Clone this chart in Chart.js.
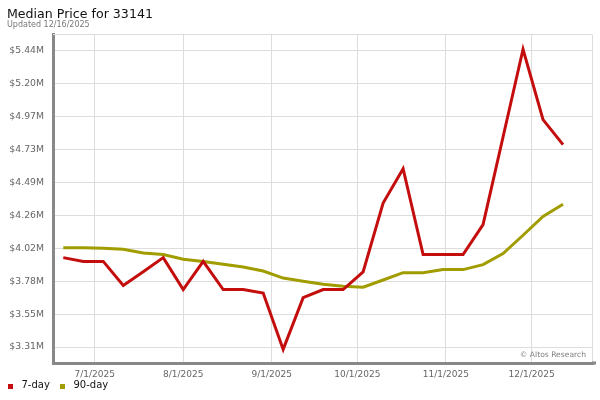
<!DOCTYPE html>
<html>
<head>
<meta charset="utf-8">
<script src="https://cdn.jsdelivr.net/npm/chart.js@4"></script>
<style>
    body { margin: 0; background: #fff; font-family: 'DejaVu Sans', sans-serif; }
    #wrap { position: relative; width: 600px; height: 400px; }
    #title { position: absolute; left: 7px; top: 7px; font-size: 12.6px; line-height: 13px; color: #111; white-space: nowrap; }
    #updated { position: absolute; left: 7px; top: 20.5px; font-size: 8px; line-height: 8px; color: #777; white-space: nowrap; }
    #credit { position: absolute; right: 14px; top: 350.5px; font-size: 7.6px; line-height: 8px; color: #808080; white-space: nowrap; }
    .legend-item { position: absolute; top: 380px; font-size: 10px; line-height: 10px; color: #111; white-space: nowrap; }
    .legend-box { position: absolute; top: 384px; width: 5px; height: 5px; }
</style>
</head>
<body>
<div id="wrap">
    <canvas id="priceChart" width="600" height="400"></canvas>
    <div id="title">Median Price for 33141</div>
    <div id="updated">Updated 12/16/2025</div>
    <div id="credit">© Altos Research</div>
    <div id="legend"></div>
</div>
<script>
// Weekly sample dates
var dates = ['2025-06-20', '2025-06-27', '2025-07-04', '2025-07-11', '2025-07-18', '2025-07-25',
    '2025-08-01', '2025-08-08', '2025-08-15', '2025-08-22', '2025-08-29', '2025-09-05',
    '2025-09-12', '2025-09-19', '2025-09-26', '2025-10-03', '2025-10-10', '2025-10-17',
    '2025-10-24', '2025-10-31', '2025-11-07', '2025-11-14', '2025-11-21', '2025-11-28',
    '2025-12-05', '2025-12-12'];

// Median price, millions of dollars
var sevenDay = [3.953, 3.926, 3.926, 3.752, 3.852, 3.953, 3.723, 3.926, 3.723, 3.723,
    3.698, 3.293, 3.665, 3.723, 3.723, 3.850, 4.346, 4.593, 3.975, 3.975,
    3.975, 4.190, 4.821, 5.452, 4.946, 4.766];
var ninetyDay = [4.025, 4.025, 4.020, 4.013, 3.986, 3.975, 3.941, 3.926, 3.905, 3.886,
    3.857, 3.806, 3.783, 3.761, 3.747, 3.740, 3.792, 3.845, 3.845, 3.867,
    3.867, 3.903, 3.982, 4.114, 4.250, 4.337];

var seriesNames = ['7-day', '90-day'];
var xTickDates = ['2025-07-01', '2025-08-01', '2025-09-01', '2025-10-01', '2025-11-01', '2025-12-01'];
var xTickLabels = ['7/1/2025', '8/1/2025', '9/1/2025', '10/1/2025', '11/1/2025', '12/1/2025'];
var yTickValues = [3.31, 3.5467, 3.7833, 4.02, 4.2567, 4.4933, 4.73, 4.9667, 5.2033, 5.44];
var yTickLabels = ['$3.31M', '$3.55M', '$3.78M', '$4.02M', '$4.26M', '$4.49M', '$4.73M', '$4.97M', '$5.20M', '$5.44M'];

var redColor = '#c40d0d';
var oliveColor = '#a19c00';

function dayNum(s) {
    var p = s.split('-');
    return Date.UTC(+p[0], +p[1] - 1, +p[2]) / 86400000;
}

function toPoints(values) {
    return values.map(function(v, i) { return { x: dayNum(dates[i]), y: v }; });
}

Chart.defaults.font.family = "'DejaVu Sans', sans-serif";

// light border on top and right of the plot, plus the bottom axis stub past the corner
var framePlugin = {
    id: 'frame',
    beforeDatasetsDraw: function(chart) {
        var a = chart.chartArea;
        var ctx = chart.ctx;
        ctx.save();
        ctx.strokeStyle = '#dddddd';
        ctx.lineWidth = 1;
        ctx.beginPath();
        ctx.moveTo(a.left, a.top + 0.5);
        ctx.lineTo(a.right - 0.5, a.top + 0.5);
        ctx.lineTo(a.right - 0.5, a.bottom);
        ctx.stroke();
        ctx.fillStyle = '#888888';
        ctx.fillRect(a.right - 1, a.bottom - 1.5, 4, 3);
        ctx.restore();
    }
};

var firstDay = dayNum(dates[0]);
var lastDay = dayNum(dates[dates.length - 1]);

var chart = new Chart(document.getElementById('priceChart').getContext('2d'), {
    type: 'line',
    data: {
        datasets: [{
            label: seriesNames[0],
            data: toPoints(sevenDay),
            borderColor: redColor,
            backgroundColor: redColor,
            borderWidth: 3,
            pointRadius: 0,
            tension: 0
        }, {
            label: seriesNames[1],
            data: toPoints(ninetyDay),
            borderColor: oliveColor,
            backgroundColor: oliveColor,
            borderWidth: 3,
            pointRadius: 0,
            tension: 0
        }]
    },
    options: {
        responsive: false,
        animation: false,
        layout: { padding: { top: 34, right: 7, left: 0, bottom: 0 } },
        plugins: {
            legend: { display: false },
            tooltip: { enabled: false }
        },
        scales: {
            x: {
                type: 'linear',
                min: firstDay - 3.6,
                max: lastDay + 10.5,
                afterFit: function(scale) { scale.height = 37; },
                afterBuildTicks: function(scale) {
                    scale.ticks = xTickDates.map(function(d) { return { value: dayNum(d) }; });
                },
                grid: { color: '#dddddd', drawTicks: false },
                border: { color: '#888888', width: 3 },
                ticks: {
                    autoSkip: false,
                    maxRotation: 0,
                    padding: 6,
                    color: '#666',
                    font: { size: 9 },
                    callback: function(value, index) { return xTickLabels[index]; }
                }
            },
            y: {
                min: 3.195,
                max: 5.562,
                afterFit: function(scale) { scale.width = 53; },
                afterBuildTicks: function(scale) {
                    scale.ticks = yTickValues.map(function(v) { return { value: v }; });
                },
                grid: { color: '#dddddd', drawTicks: false },
                border: { color: '#888888', width: 3 },
                ticks: {
                    padding: 9,
                    color: '#666',
                    font: { size: 9.3 },
                    callback: function(value, index) { return yTickLabels[index]; }
                }
            }
        }
    },
    plugins: [framePlugin]
});

// Legend below the axis, built from the datasets
(function() {
    var legend = document.getElementById('legend');
    var boxX = [8, 60];
    chart.data.datasets.forEach(function(ds, i) {
        var box = document.createElement('div');
        box.className = 'legend-box';
        box.style.left = boxX[i] + 'px';
        box.style.background = ds.borderColor;
        legend.appendChild(box);
        var label = document.createElement('div');
        label.className = 'legend-item';
        label.style.left = (boxX[i] + 13.5) + 'px';
        label.textContent = ds.label;
        legend.appendChild(label);
    });
})();
</script>
</body>
</html>
